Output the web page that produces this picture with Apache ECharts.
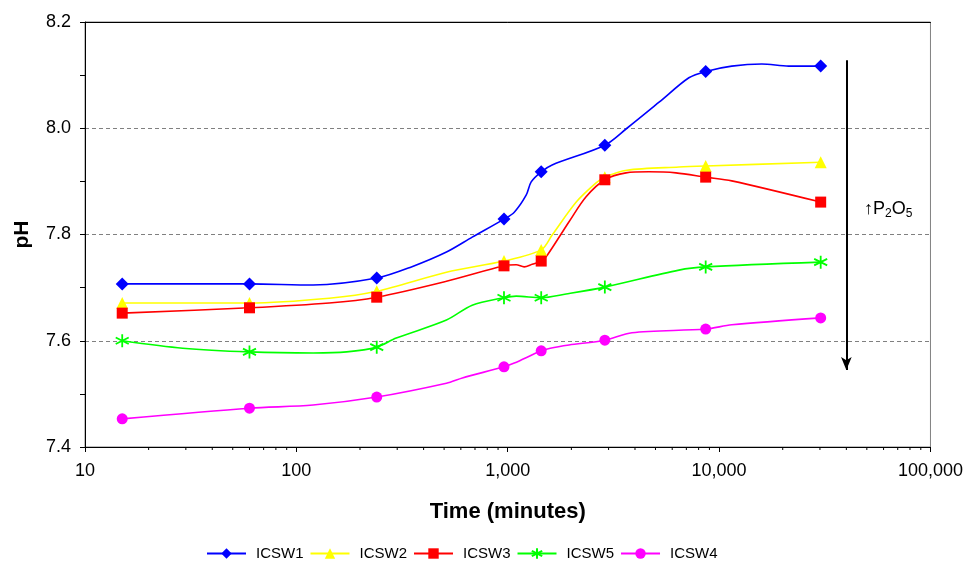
<!DOCTYPE html>
<html>
<head>
<meta charset="utf-8">
<script src="https://cdn.jsdelivr.net/npm/echarts@6/dist/echarts.min.js"></script>
<style>
html,body{margin:0;padding:0;background:#fff;}
#chart{width:966px;height:565px;}
</style>
</head>
<body>
<div id="chart"></div>
<script>
// Sampling times (minutes) that carry markers
const markerTimes = [15, 60, 240, 960, 1440, 2880, 8640, 30240];

// ICSW1
const times1 = [15, 60, 120, 240, 350, 513, 679, 960, 1074, 1222, 1291, 1440, 1622, 2880, 3664, 5200, 7194, 8640, 11480, 15920, 21330, 30240];
const icsw1  = [7.707, 7.707, 7.705, 7.718, 7.739, 7.767, 7.795, 7.829, 7.842, 7.874, 7.899, 7.918, 7.931, 7.968, 8.000, 8.049, 8.095, 8.107, 8.117, 8.121, 8.117, 8.117];
// ICSW2
const times2 = [15, 60, 143, 240, 513, 960, 1440, 1622, 2109, 2618, 2880, 3664, 6456, 8640, 30240];
const icsw2  = [7.671, 7.671, 7.680, 7.693, 7.729, 7.750, 7.771, 7.799, 7.861, 7.897, 7.908, 7.921, 7.927, 7.929, 7.936];
// ICSW3
const times3 = [15, 60, 143, 240, 513, 960, 1097, 1196, 1305, 1440, 1538, 1950, 2348, 2880, 3627, 4656, 6250, 8640, 11480, 30240];
const icsw3  = [7.652, 7.662, 7.671, 7.682, 7.712, 7.741, 7.743, 7.739, 7.744, 7.750, 7.761, 7.824, 7.871, 7.903, 7.916, 7.918, 7.916, 7.908, 7.901, 7.861];
// ICSW5
const times5 = [15, 29, 60, 120, 173, 240, 297, 513, 679, 960, 1097, 1440, 1888, 2880, 6456, 8640, 30240];
const icsw5  = [7.600, 7.586, 7.579, 7.577, 7.579, 7.588, 7.605, 7.639, 7.667, 7.681, 7.684, 7.681, 7.688, 7.701, 7.733, 7.739, 7.748];
// ICSW4
const times4 = [15, 60, 120, 240, 513, 610, 960, 1074, 1440, 1590, 1950, 2880, 3870, 8640, 11480, 30240];
const icsw4  = [7.453, 7.473, 7.479, 7.494, 7.520, 7.530, 7.551, 7.558, 7.581, 7.586, 7.592, 7.601, 7.615, 7.622, 7.630, 7.643];

// Minor tick positions on the log time axis
const minorTickTimes = [20,30,40,50,60,70,80,90,200,300,400,500,600,700,800,900,2000,3000,4000,5000,6000,7000,8000,9000,20000,30000,40000,50000,60000,70000,80000,90000];

// Arrow annotation (time, pH start, pH end)
const arrowTime = 40000;
const arrowFrom = 8.128;
const arrowTo = 7.545;

const FONT = "'Liberation Sans', Arial, sans-serif";

function build(times, vals) {
  return times.map((t, i) => markerTimes.includes(t) ? [t, vals[i]] : { value: [t, vals[i]], symbol: 'none' });
}

const starPath = 'path://M10,0 L10,20 M1.34,5 L18.66,15 M1.34,15 L18.66,5';

function lineSeries(name, color, symbol, size, data, extra) {
  return Object.assign({
    name: name,
    type: 'line',
    data: data,
    smooth: 0.3,
    symbol: symbol,
    symbolSize: size,
    showAllSymbol: true,
    lineStyle: { color: color, width: 1.6 },
    itemStyle: { color: color },
    z: 3
  }, extra || {});
}

const chart = echarts.init(document.getElementById('chart'), null, { renderer: 'canvas' });
chart.setOption({
  animation: false,
  backgroundColor: '#fff',
  textStyle: { fontFamily: FONT },
  grid: { left: 85, right: 34, top: 22, bottom: 118, show: true, borderColor: '#808080', borderWidth: 1, backgroundColor: 'transparent' },
  xAxis: [{
    type: 'log', logBase: 10, min: 10, max: 100000,
    name: 'Time (minutes)', nameLocation: 'middle', nameGap: 54,
    nameTextStyle: { fontFamily: FONT, fontSize: 22, fontWeight: 'bold', color: '#000' },
    axisLine: { show: true, lineStyle: { color: '#000', width: 1 } },
    axisTick: { show: true, inside: false, length: 5, lineStyle: { color: '#000' } },
    axisLabel: { fontFamily: FONT, fontSize: 18, color: '#000', margin: 15,
      formatter: v => Math.round(v).toLocaleString('en-US') },
    splitLine: { show: false }
  }, {
    type: 'log', logBase: 10, min: 10, max: 100000, position: 'top',
    axisLine: { show: true, lineStyle: { color: '#000', width: 1 } },
    axisTick: { show: false }, axisLabel: { show: false }, splitLine: { show: false }
  }],
  yAxis: {
    type: 'value', min: 7.4, max: 8.2, interval: 0.2,
    name: 'pH', nameLocation: 'middle', nameGap: 52, nameRotate: 90,
    nameTextStyle: { fontFamily: FONT, fontSize: 21, fontWeight: 'bold', color: '#000' },
    axisLine: { show: true, lineStyle: { color: '#000', width: 1 } },
    axisTick: { show: true, length: 5, lineStyle: { color: '#000' } },
    minorTick: { show: true, splitNumber: 2, length: 5, lineStyle: { color: '#000' } },
    axisLabel: { fontFamily: FONT, fontSize: 18, color: '#000', margin: 14, formatter: v => v.toFixed(1) },
    splitLine: { show: true, lineStyle: { color: '#808080', width: 1, type: [4, 3] } }
  },
  legend: {
    data: ['ICSW1', 'ICSW2', 'ICSW3', 'ICSW5', 'ICSW4'],
    left: 201, top: 541,
    itemWidth: 39, itemHeight: 13, itemGap: 6,
    textStyle: { fontFamily: FONT, fontSize: 15, color: '#000', padding: [0, 0, 0, 5] }
  },
  series: [
    lineSeries('ICSW1', '#0000FF', 'diamond', 13, build(times1, icsw1), {
      markLine: {
        silent: true, animation: false,
        symbol: ['none', 'arrow'], symbolSize: [8, 13],
        lineStyle: { color: '#000', width: 2, type: 'solid' },
        label: { show: false },
        data: [[{ coord: [arrowTime, arrowFrom] }, { coord: [arrowTime, arrowTo] }]]
      }
    }),
    lineSeries('ICSW2', '#FFFF00', 'triangle', 12, build(times2, icsw2)),
    lineSeries('ICSW3', '#FF0000', 'rect', 11, build(times3, icsw3)),
    lineSeries('ICSW5', '#00FF00', starPath, 13, build(times5, icsw5), {
      itemStyle: { color: '#00FF00', borderColor: '#00FF00', borderWidth: 1.8 }
    }),
    lineSeries('ICSW4', '#FF00FF', 'circle', 11, build(times4, icsw4)),
    {
      type: 'custom', name: 'minorTicks', silent: true, clip: false,
      data: minorTickTimes.map(t => [t, 7.4]),
      renderItem: function (params, api) {
        const p = api.coord([api.value(0), api.value(1)]);
        return { type: 'line', shape: { x1: p[0], y1: p[1], x2: p[0], y2: p[1] + 3 }, style: { stroke: '#000', lineWidth: 1 } };
      },
      z: 5
    }
  ],
  graphic: [{
    type: 'text', left: 864, top: 200,
    style: {
      text: '{a|↑}{b|P}{s|2}{b|O}{s|5}',
      rich: {
        a: { fontFamily: FONT, fontSize: 18, lineHeight: 22, fill: '#000' },
        b: { fontFamily: FONT, fontSize: 18, lineHeight: 22, fill: '#000' },
        s: { fontFamily: FONT, fontSize: 12, lineHeight: 12, verticalAlign: 'bottom', fill: '#000' }
      }
    }
  }]
});
</script>
</body>
</html>
